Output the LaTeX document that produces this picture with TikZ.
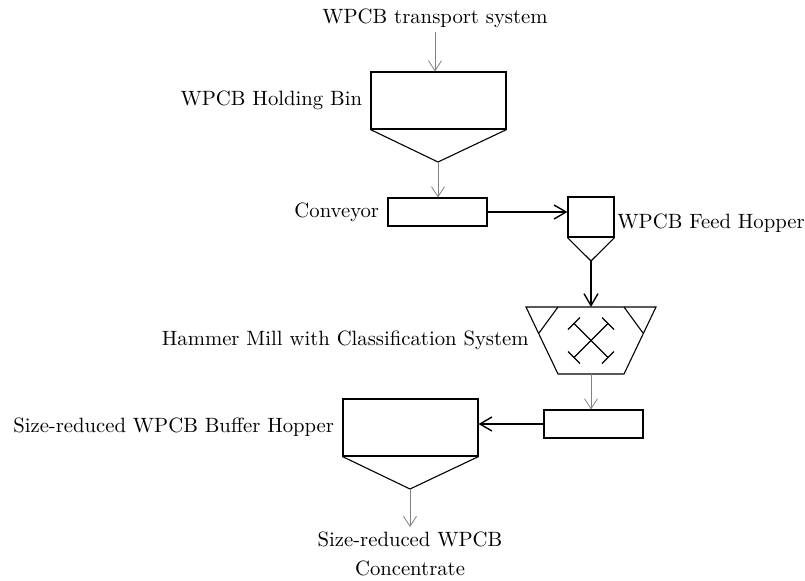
\documentclass[tikz,border=0pt]{standalone}
\usepackage{tikz}
\usetikzlibrary{positioning,arrows.meta,calc}
\tikzset{
  unit/.style={draw, line width=0.55pt, inner sep=0pt},
  bin/.style={unit, minimum width=67.5pt, minimum height=28.5pt},
  belt/.style={unit, minimum width=49.5pt, minimum height=14pt},
  lbl/.style={inner sep=2pt, font=\fontsize{10.35}{12.4}\selectfont},
  feed/.style={-{Straight Barb[length=5pt, width=6.5pt]}, gray, line width=0.4pt},
  flow/.style={-{Straight Barb[length=6pt, width=7pt]}, line width=0.7pt},
}

\begin{document}
\begin{tikzpicture}[x=0.5pt, y=-0.5pt]
  \useasboundingbox (0,0) rectangle (805,580);
  % source and holding bin
  \node[lbl] (src) at (435,18) {WPCB transport system};
  \node[bin] (hold) at (438.5,100.5) {};
  \coordinate (holdTip) at (438,162);
  \draw[unit] (hold.south west) -- (holdTip) -- (hold.south east);
  \node[lbl, left=2pt of hold] {WPCB Holding Bin};
  \draw[feed] (src.south) -- (src.south |- hold.north);
  % conveyor
  \node[belt] (conv) at (437.5,212) {};
  \node[lbl, left=2pt of conv] {Conveyor};
  \draw[feed] (holdTip) -- (holdTip |- conv.north);
  % feed hopper
  \node[unit, minimum width=23pt, minimum height=20pt] (hop) at (591,217) {};
  \coordinate (hopTip) at (591,261);
  \draw[unit] (hop.south west) -- (hopTip) -- (hop.south east);
  \node[lbl, anchor=west, inner sep=0pt] at ($(hop.east)+(2.5,6)$) {WPCB Feed Hopper};
  \draw[flow] (conv.east) -- (conv.east -| hop.west);
  % hammer mill
  \coordinate (mill) at (591,340.5);
  \coordinate (millIn) at (591,307);
  \coordinate (millOut) at (591,374);
  \draw[unit] (526,307) -- (656,307) -- (624,374) -- (558,374) -- cycle;
  \draw[unit] (558,307) -- (539,333);
  \draw[unit] (624,307) -- (643,333);
  \begin{scope}[shift={(mill)}, line width=0.55pt]
    \draw (-17,-17) -- (17,17);
    \draw (-17,17) -- (17,-17);
    \foreach \sx/\sy in {1/1,1/-1,-1/1,-1/-1}
      \draw ({17*\sx-6*\sy},{17*\sy+6*\sx}) -- ({17*\sx+6*\sy},{17*\sy-6*\sx});
  \end{scope}
  \node[lbl, anchor=east] at (533,340.5) {Hammer Mill with Classification System};
  \draw[flow] (hopTip) -- (millIn);
  % second conveyor and buffer hopper
  \node[belt] (conv2) at (593.5,424) {};
  \draw[feed] (millOut) -- (millOut |- conv2.north);
  \node[bin] (buf) at (410.5,427.5) {};
  \coordinate (bufTip) at (410,489);
  \draw[unit] (buf.south west) -- (bufTip) -- (buf.south east);
  \node[lbl, left=2pt of buf] {Size-reduced WPCB Buffer Hopper};
  \draw[flow] (conv2.west) -- (conv2.west -| buf.east);
  % product
  \node[lbl, anchor=north, align=center] (out) at (410,527) {Size-reduced WPCB\\[2.5pt]Concentrate};
  \draw[feed] (bufTip) -- (out);
\end{tikzpicture}
\end{document}
